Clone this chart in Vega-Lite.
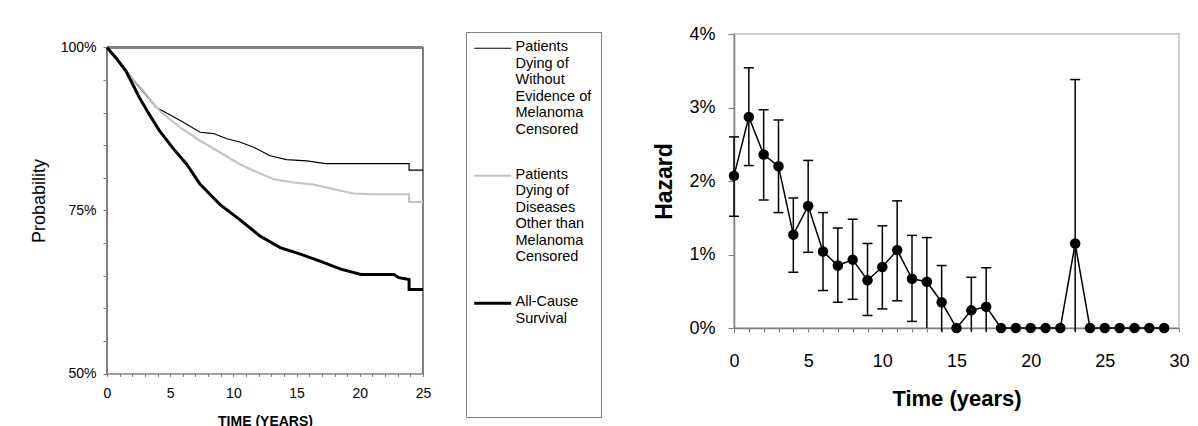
{
  "$schema": "https://vega.github.io/schema/vega-lite/v6.json",
  "padding": {"left": 30, "top": 24, "right": 0, "bottom": 0},
  "autosize": {"type": "pad"},
  "background": "white",
  "config": {"font": "Liberation Sans", "concat": {"spacing": 222}},
  "datasets": {
    "surv": [
      {"series": "Patients Dying of Without Evidence of Melanoma Censored", "t": 0, "p": 100},
      {"series": "Patients Dying of Without Evidence of Melanoma Censored", "t": 1, "p": 97.7},
      {"series": "Patients Dying of Without Evidence of Melanoma Censored", "t": 2, "p": 95.2},
      {"series": "Patients Dying of Without Evidence of Melanoma Censored", "t": 2.9, "p": 93.1},
      {"series": "Patients Dying of Without Evidence of Melanoma Censored", "t": 3.9, "p": 90.8},
      {"series": "Patients Dying of Without Evidence of Melanoma Censored", "t": 5.8, "p": 88.8},
      {"series": "Patients Dying of Without Evidence of Melanoma Censored", "t": 7.37, "p": 87.0},
      {"series": "Patients Dying of Without Evidence of Melanoma Censored", "t": 8.43, "p": 86.8},
      {"series": "Patients Dying of Without Evidence of Melanoma Censored", "t": 9.48, "p": 86.0},
      {"series": "Patients Dying of Without Evidence of Melanoma Censored", "t": 10.5, "p": 85.5},
      {"series": "Patients Dying of Without Evidence of Melanoma Censored", "t": 11.6, "p": 84.7},
      {"series": "Patients Dying of Without Evidence of Melanoma Censored", "t": 12.9, "p": 83.4},
      {"series": "Patients Dying of Without Evidence of Melanoma Censored", "t": 14.2, "p": 82.8},
      {"series": "Patients Dying of Without Evidence of Melanoma Censored", "t": 15.8, "p": 82.6},
      {"series": "Patients Dying of Without Evidence of Melanoma Censored", "t": 17.3, "p": 82.2},
      {"series": "Patients Dying of Without Evidence of Melanoma Censored", "t": 23.9, "p": 82.2},
      {"series": "Patients Dying of Without Evidence of Melanoma Censored", "t": 23.9, "p": 81.2},
      {"series": "Patients Dying of Without Evidence of Melanoma Censored", "t": 25, "p": 81.2},
      {"series": "Patients Dying of Diseases Other than Melanoma Censored", "t": 0, "p": 100},
      {"series": "Patients Dying of Diseases Other than Melanoma Censored", "t": 1, "p": 97.8},
      {"series": "Patients Dying of Diseases Other than Melanoma Censored", "t": 2, "p": 95.3},
      {"series": "Patients Dying of Diseases Other than Melanoma Censored", "t": 2.9, "p": 93.3},
      {"series": "Patients Dying of Diseases Other than Melanoma Censored", "t": 3.6, "p": 91.6},
      {"series": "Patients Dying of Diseases Other than Melanoma Censored", "t": 4.16, "p": 90.3},
      {"series": "Patients Dying of Diseases Other than Melanoma Censored", "t": 5.8, "p": 87.7},
      {"series": "Patients Dying of Diseases Other than Melanoma Censored", "t": 7.37, "p": 85.7},
      {"series": "Patients Dying of Diseases Other than Melanoma Censored", "t": 8.95, "p": 83.9},
      {"series": "Patients Dying of Diseases Other than Melanoma Censored", "t": 10.5, "p": 82.1},
      {"series": "Patients Dying of Diseases Other than Melanoma Censored", "t": 11.6, "p": 81.1},
      {"series": "Patients Dying of Diseases Other than Melanoma Censored", "t": 13.2, "p": 79.8},
      {"series": "Patients Dying of Diseases Other than Melanoma Censored", "t": 14.75, "p": 79.3},
      {"series": "Patients Dying of Diseases Other than Melanoma Censored", "t": 16.3, "p": 79.0},
      {"series": "Patients Dying of Diseases Other than Melanoma Censored", "t": 17.9, "p": 78.3},
      {"series": "Patients Dying of Diseases Other than Melanoma Censored", "t": 19.5, "p": 77.6},
      {"series": "Patients Dying of Diseases Other than Melanoma Censored", "t": 21.0, "p": 77.5},
      {"series": "Patients Dying of Diseases Other than Melanoma Censored", "t": 23.9, "p": 77.5},
      {"series": "Patients Dying of Diseases Other than Melanoma Censored", "t": 23.9, "p": 76.3},
      {"series": "Patients Dying of Diseases Other than Melanoma Censored", "t": 25, "p": 76.3},
      {"series": "All-Cause Survival", "t": 0, "p": 100},
      {"series": "All-Cause Survival", "t": 0.71, "p": 98.4},
      {"series": "All-Cause Survival", "t": 1.5, "p": 96.4},
      {"series": "All-Cause Survival", "t": 2.57, "p": 92.3},
      {"series": "All-Cause Survival", "t": 3.36, "p": 89.7},
      {"series": "All-Cause Survival", "t": 4.16, "p": 87.2},
      {"series": "All-Cause Survival", "t": 5.2, "p": 84.6},
      {"series": "All-Cause Survival", "t": 6.3, "p": 82.1},
      {"series": "All-Cause Survival", "t": 7.37, "p": 79.0},
      {"series": "All-Cause Survival", "t": 8.95, "p": 75.9},
      {"series": "All-Cause Survival", "t": 10.5, "p": 73.6},
      {"series": "All-Cause Survival", "t": 12.1, "p": 71.1},
      {"series": "All-Cause Survival", "t": 13.7, "p": 69.3},
      {"series": "All-Cause Survival", "t": 15.3, "p": 68.3},
      {"series": "All-Cause Survival", "t": 16.9, "p": 67.2},
      {"series": "All-Cause Survival", "t": 18.5, "p": 66.0},
      {"series": "All-Cause Survival", "t": 20.1, "p": 65.2},
      {"series": "All-Cause Survival", "t": 22.7, "p": 65.2},
      {"series": "All-Cause Survival", "t": 23.1, "p": 64.7},
      {"series": "All-Cause Survival", "t": 23.9, "p": 64.4},
      {"series": "All-Cause Survival", "t": 23.9, "p": 62.9},
      {"series": "All-Cause Survival", "t": 25, "p": 62.9}
    ],
    "haz": [
      {"t": 0, "h": 2.07, "lo": 1.52, "hi": 2.60},
      {"t": 1, "h": 2.87, "lo": 2.21, "hi": 3.54},
      {"t": 2, "h": 2.36, "lo": 1.74, "hi": 2.97},
      {"t": 3, "h": 2.20, "lo": 1.57, "hi": 2.83},
      {"t": 4, "h": 1.27, "lo": 0.76, "hi": 1.77},
      {"t": 5, "h": 1.66, "lo": 1.03, "hi": 2.28},
      {"t": 6, "h": 1.04, "lo": 0.51, "hi": 1.57},
      {"t": 7, "h": 0.85, "lo": 0.35, "hi": 1.36},
      {"t": 8, "h": 0.93, "lo": 0.39, "hi": 1.48},
      {"t": 9, "h": 0.65, "lo": 0.17, "hi": 1.15},
      {"t": 10, "h": 0.83, "lo": 0.26, "hi": 1.39},
      {"t": 11, "h": 1.06, "lo": 0.37, "hi": 1.73},
      {"t": 12, "h": 0.67, "lo": 0.09, "hi": 1.26},
      {"t": 13, "h": 0.63, "lo": 0.0, "hi": 1.23},
      {"t": 14, "h": 0.35, "lo": -0.05, "hi": 0.85},
      {"t": 15, "h": 0, "lo": null, "hi": null},
      {"t": 16, "h": 0.24, "lo": -0.05, "hi": 0.69},
      {"t": 17, "h": 0.29, "lo": -0.05, "hi": 0.82},
      {"t": 18, "h": 0, "lo": null, "hi": null},
      {"t": 19, "h": 0, "lo": null, "hi": null},
      {"t": 20, "h": 0, "lo": null, "hi": null},
      {"t": 21, "h": 0, "lo": null, "hi": null},
      {"t": 22, "h": 0, "lo": null, "hi": null},
      {"t": 23, "h": 1.15, "lo": -0.05, "hi": 3.38},
      {"t": 24, "h": 0, "lo": null, "hi": null},
      {"t": 25, "h": 0, "lo": null, "hi": null},
      {"t": 26, "h": 0, "lo": null, "hi": null},
      {"t": 27, "h": 0, "lo": null, "hi": null},
      {"t": 28, "h": 0, "lo": null, "hi": null},
      {"t": 29, "h": 0, "lo": null, "hi": null}
    ]
  },
  "hconcat": [
    {
      "width": 316,
      "height": 339.5,
      "data": {"name": "surv"},
      "view": {"stroke": null},
      "encoding": {
        "x": {
          "field": "t", "type": "quantitative",
          "scale": {"domain": [0, 25], "nice": false},
          "axis": {
            "values": [0,1,2,3,4,5,6,7,8,9,10,11,12,13,14,15,16,17,18,19,20,21,22,23,24,25],
            "labelExpr": "datum.value % 5 === 0 ? datum.label : ''",
            "title": "TIME (YEARS)", "titleFontSize": 14, "titleFontWeight": "bold", "titleColor": "black", "titlePadding": 14,
            "labelFontSize": 14, "labelColor": "black", "labelPadding": 10, "labelFlush": false, "labelOverlap": false,
            "tickSize": 3, "tickColor": "#808080", "domainColor": "#808080", "domainWidth": 1.5, "grid": false
          }
        },
        "y": {
          "field": "p", "type": "quantitative",
          "scale": {"domain": [50, 102.07], "nice": false, "zero": false},
          "axis": {
            "values": [50,55,60,65,70,75,80,85,90,95,100],
            "labelExpr": "datum.value % 25 === 0 ? datum.value + '%' : ''",
            "title": "Probability", "titleFontSize": 18, "titleFontWeight": "normal", "titleColor": "black", "titlePadding": 12,
            "titleY": 166.5,
            "labelFontSize": 14, "labelColor": "black", "labelPadding": 7, "labelFlush": false, "labelOverlap": false,
            "tickSize": 4, "tickColor": "#808080", "domain": false, "grid": false
          }
        }
      },
      "layer": [
        {
          "mark": {"type": "rule", "color": "#808080", "strokeWidth": 1.5},
          "encoding": {"x": {"datum": 0}, "y": {"datum": 50}, "y2": {"datum": 100}}
        },
        {
          "mark": {"type": "rule", "color": "#808080", "strokeWidth": 1.5},
          "encoding": {"x": {"datum": 25}, "y": {"datum": 50}, "y2": {"datum": 100}}
        },
        {
          "mark": {"type": "rule", "color": "#808080", "strokeWidth": 1.5},
          "encoding": {"y": {"datum": 100}, "x": {"datum": 0}, "x2": {"datum": 25}}
        },
        {
          "mark": {"type": "line", "interpolate": "linear"},
          "encoding": {
            "color": {
              "field": "series", "type": "nominal",
              "scale": {
                "domain": ["Patients Dying of Without Evidence of Melanoma Censored", "Patients Dying of Diseases Other than Melanoma Censored", "All-Cause Survival"],
                "range": ["#000000", "#c9bfcb", "#000000"]
              },
              "legend": {
                "orient": "none", "legendX": 359, "legendY": -2,
                "title": null,
                "symbolType": "M-4,0H14.5", "symbolSize": 16,
                "labelFontSize": 14.5, "labelColor": "black", "labelLimit": 300, "labelOffset": 26,
                "labelExpr": "datum.label === 'All-Cause Survival' ? ['All-Cause', 'Survival', ' ', ' ', ' ', ' ', ' '] : datum.label === 'Patients Dying of Diseases Other than Melanoma Censored' ? ['Patients', 'Dying of', 'Diseases', 'Other than', 'Melanoma', 'Censored'] : ['Patients', 'Dying of', 'Without', 'Evidence of', 'Melanoma', 'Censored']",
                "labelBaseline": "top",
                "rowPadding": 29.5,
                "padding": 9,
                "strokeColor": "#808080", "fillColor": "white",
                "encode": {"labels": {"update": {"dy": {"value": -8}}}}
              }
            },
            "strokeWidth": {
              "field": "series", "type": "nominal",
              "scale": {
                "domain": ["Patients Dying of Without Evidence of Melanoma Censored", "Patients Dying of Diseases Other than Melanoma Censored", "All-Cause Survival"],
                "range": [1.2, 3, 3.5]
              }
            }
          }
        }
      ]
    },
    {
      "width": 445,
      "height": 294,
      "data": {"name": "haz"},
      "view": {"stroke": "#c4b8c8", "strokeWidth": 1.5},
      "encoding": {
        "x": {
          "field": "t", "type": "quantitative",
          "scale": {"domain": [0, 30], "nice": false},
          "axis": {
            "values": [0,1,2,3,4,5,6,7,8,9,10,11,12,13,14,15,16,17,18,19,20,21,22,23,24,25,26,27,28,29,30],
            "labelExpr": "datum.value % 5 === 0 ? datum.label : ''",
            "title": "Time (years)", "titleFontSize": 22, "titleFontWeight": "bold", "titleColor": "black", "titlePadding": 18,
            "labelFontSize": 18, "labelColor": "black", "labelPadding": 20, "labelFlush": false, "labelOverlap": false,
            "tickSize": 4, "tickColor": "#808080", "domainColor": "#808080", "domainWidth": 1.5, "grid": false
          }
        }
      },
      "layer": [
        {
          "transform": [{"filter": "datum.hi != null"}],
          "mark": {"type": "rule", "color": "black", "strokeWidth": 1.5},
          "encoding": {
            "y": {
              "field": "lo", "type": "quantitative",
              "scale": {"domain": [0, 4], "nice": false},
              "axis": {
                "values": [0, 1, 2, 3, 4],
                "labelExpr": "datum.value + '%'",
                "title": "Hazard", "titleFontSize": 23, "titleFontWeight": "bold", "titleColor": "black", "titlePadding": 12,
                "labelFontSize": 18, "labelColor": "black", "labelPadding": 13, "labelFlush": false,
                "tickSize": 6, "tickColor": "#808080", "domainColor": "#808080", "domainWidth": 1.5, "grid": false
              }
            },
            "y2": {"field": "hi"}
          }
        },
        {
          "transform": [{"filter": "datum.hi != null"}],
          "mark": {"type": "tick", "orient": "horizontal", "color": "black", "size": 10, "thickness": 1.5, "opacity": 1},
          "encoding": {"y": {"field": "hi", "type": "quantitative", "title": "Hazard"}}
        },
        {
          "transform": [{"filter": "datum.lo != null && datum.lo > 0"}],
          "mark": {"type": "tick", "orient": "horizontal", "color": "black", "size": 10, "thickness": 1.5, "opacity": 1},
          "encoding": {"y": {"field": "lo", "type": "quantitative", "title": "Hazard"}}
        },
        {
          "mark": {"type": "line", "color": "black", "strokeWidth": 1.5},
          "encoding": {"y": {"field": "h", "type": "quantitative", "title": "Hazard"}}
        },
        {
          "mark": {"type": "circle", "color": "black", "opacity": 1, "size": 110},
          "encoding": {"y": {"field": "h", "type": "quantitative", "title": "Hazard"}}
        }
      ]
    }
  ]
}
